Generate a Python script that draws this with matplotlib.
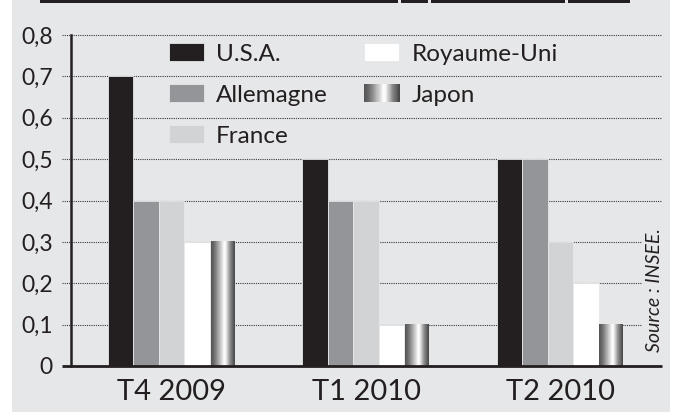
import numpy as np
import matplotlib
matplotlib.use("Agg")
import matplotlib.pyplot as plt
from matplotlib.patches import Rectangle
from matplotlib.legend_handler import HandlerBase
import matplotlib.transforms as mtransforms

plt.rcParams['font.family'] = ['Lato', 'DejaVu Sans']

# data
periods = ["T4 2009", "T1 2010", "T2 2010"]
countries = ["U.S.A.", "Allemagne", "France", "Royaume-Uni", "Japon"]
usa = [0.7, 0.5, 0.5]
allemagne = [0.4, 0.4, 0.5]
france = [0.4, 0.4, 0.3]
royaume_uni = [0.3, 0.1, 0.2]
japon = [0.3, 0.1, 0.1]
yticks = [0, 0.1, 0.2, 0.3, 0.4, 0.5, 0.6, 0.7, 0.8]
ytick_labels = ["0", "0,1", "0,2", "0,3", "0,4", "0,5", "0,6", "0,7", "0,8"]
source = "Source : INSEE."

BG = "#e6e7e8"
colors = ["#231f20", "#939598", "#d1d3d4", "#ffffff", None]

# cylinder-like shading used for the Japon bars
grad_x = np.linspace(0, 1, 64)
grad_v = np.interp(grad_x, [0, 0.15, 0.45, 0.55, 0.62, 0.8, 1.0],
                   [0.33, 0.45, 0.85, 1.0, 0.95, 0.55, 0.28])
grad_cmap = plt.get_cmap("gray")


class HandlerGradient(HandlerBase):
    def create_artists(self, legend, orig_handle, xdescent, ydescent,
                       width, height, fontsize, trans):
        n = len(grad_v)
        arts = []
        for k, v in enumerate(grad_v):
            r = Rectangle((-xdescent + width * k / n, -ydescent), width / n + 0.3, height,
                          facecolor=grad_cmap(v), edgecolor="none", transform=trans)
            arts.append(r)
        return arts


fig = plt.figure(figsize=(6.75, 4.12), dpi=100, facecolor="white")
fig.patches.append(Rectangle((12 / 675, 0), 658 / 675, 1, transform=fig.transFigure,
                             facecolor=BG, edgecolor="none", zorder=-10))
# bottom edge of a table cut off above the chart
for x0, x1 in [(40, 398), (401, 428), (431, 565), (568, 630)]:
    fig.patches.append(Rectangle((x0 / 675, 1 - 3 / 412), (x1 - x0) / 675, 3 / 412,
                                 transform=fig.transFigure, facecolor="#231f20",
                                 edgecolor="none"))

ax = fig.add_axes([71 / 675, 46 / 412, 591 / 675, 331 / 412])
ax.set_facecolor("none")

x = np.arange(len(periods))
w = 0.131
series = [usa, allemagne, france, royaume_uni, japon]
handles = []
for i, (name, vals, c) in enumerate(zip(countries, series, colors)):
    pos = x + (i - 2) * w
    if c is None:
        bars = ax.bar(pos, vals, width=w, color="none", edgecolor="none", zorder=3)
        for b in bars:
            bx, bw, bh = b.get_x(), b.get_width(), b.get_height()
            ax.imshow(grad_v[None, :], cmap=grad_cmap, vmin=0, vmax=1, aspect="auto",
                      extent=[bx + 0.004, bx + bw - 0.004, 0, bh], zorder=3,
                      interpolation="bilinear")
        handles.append(Rectangle((0, 0), 1, 1, label=name))
    else:
        bars = ax.bar(pos, vals, width=w, color=c, edgecolor=BG, linewidth=0.6,
                      zorder=3, label=name)
        handles.append(bars)

ax.set_xlim(-0.517, 2.522)
ax.set_ylim(0, 0.8)

# dotted grid lines reaching slightly left of the axis
trans = mtransforms.blended_transform_factory(ax.transAxes, ax.transData)
ax.hlines(yticks[1:], -0.0155, 1.0, transform=trans, colors="#3a3a3a",
          linestyles=(0, (1, 1)), linewidth=0.8, clip_on=False, zorder=1)
ax.hlines([0], -0.0155, 1.0, transform=trans, colors="#231f20",
          linewidth=2, clip_on=False, zorder=4)

for s in ["top", "right", "bottom"]:
    ax.spines[s].set_visible(False)
ax.spines["left"].set_linewidth(1.8)
ax.spines["left"].set_color("#231f20")
ax.spines["left"].set_zorder(4)

ax.set_yticks(yticks)
ax.set_yticklabels(ytick_labels)
ax.tick_params(axis="y", length=0, pad=13, labelsize=16.5, labelcolor="#231f20")
ax.set_xticks(x)
ax.set_xticklabels(periods)
ax.tick_params(axis="x", length=0, pad=9, labelsize=21, labelcolor="#231f20")

leg = fig.legend(handles, countries, ncol=2, loc="upper left",
                 bbox_to_anchor=(169 / 675, 1 - 43 / 412), frameon=False,
                 fontsize=17.5, handlelength=1.44, handleheight=0.78,
                 handletextpad=0.5, labelspacing=0.8, columnspacing=1.5,
                 borderpad=0, borderaxespad=0,
                 handler_map={handles[4]: HandlerGradient()})
for t in leg.get_texts():
    t.set_color("#231f20")

fig.text(655 / 675, 1 - 290 / 412, source, rotation=90, ha="center", va="center",
         fontsize=14, style="italic", color="#231f20",
         bbox=dict(facecolor=BG, edgecolor="none", pad=3), zorder=5)

fig.savefig("out.png", dpi=100, facecolor="white")
